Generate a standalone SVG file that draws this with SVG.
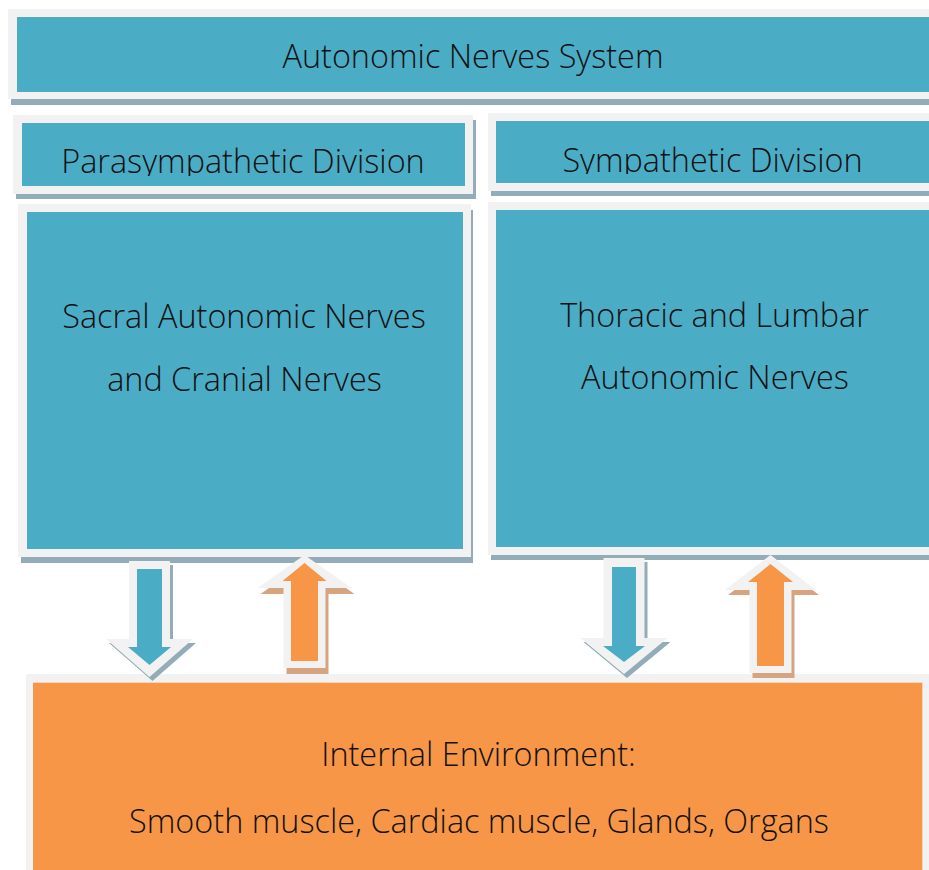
<svg xmlns="http://www.w3.org/2000/svg" width="929" height="870" viewBox="0 0 929 870">
<style>
.frame{fill:#f2f2f2}
.fill{fill:#4bacc6}
.shb{fill:#93adb8}
.sho{fill:#d5a581}
.ofill{fill:#f79646}
.t{font-family:"Open Sans","Noto Sans","Liberation Sans",sans-serif;font-size:32.4px;font-weight:300;fill:#111;text-anchor:middle}
</style>
<defs>
<clipPath id="cpPara"><rect x="0" y="100" width="929" height="76"/></clipPath>
<clipPath id="cpSym"><rect x="0" y="100" width="929" height="74"/></clipPath>
</defs>
<rect width="929" height="870" fill="#ffffff"/>

<g id="autonomic-nerves-system">
<rect class="shb" x="11" y="14" width="930" height="91"/>
<rect class="frame" x="8" y="9" width="930" height="90"/>
<rect class="fill" x="17" y="17" width="920" height="75"/>
<text class="t" x="473" y="68">Autonomic Nerves System</text>
</g>

<g id="parasympathetic-division">
<rect class="shb" x="16" y="120" width="460" height="79"/>
<rect class="frame" x="13" y="115" width="460" height="79"/>
<rect class="fill" x="22" y="123" width="443" height="63"/>
<text class="t" x="243" y="173" clip-path="url(#cpPara)">Parasympathetic Division</text>
</g>

<g id="sympathetic-division">
<rect class="shb" x="491" y="118" width="450" height="78"/>
<rect class="frame" x="488" y="113" width="450" height="78"/>
<rect class="fill" x="496" y="121" width="440" height="62"/>
<text class="t" x="712.5" y="172" clip-path="url(#cpSym)">Sympathetic Division</text>
</g>

<g id="sacral-cranial">
<rect class="shb" x="21" y="210" width="452" height="353"/>
<rect class="frame" x="18" y="204" width="453" height="353"/>
<rect class="fill" x="27" y="212" width="436" height="337"/>
<text class="t" x="244" y="328">Sacral Autonomic Nerves</text>
<text class="t" x="244.5" y="391">and Cranial Nerves</text>
</g>

<g id="thoracic-lumbar">
<rect class="shb" x="491" y="207" width="450" height="353"/>
<rect class="frame" x="488" y="202" width="450" height="353"/>
<rect class="fill" x="496" y="210" width="440" height="337"/>
<text class="t" x="714.5" y="327">Thoracic and Lumbar</text>
<text class="t" x="715" y="389">Autonomic Nerves</text>
</g>

<g id="internal-environment">
<rect class="frame" x="26" y="674" width="903" height="200"/>
<rect x="33" y="682" width="890" height="190" fill="#f8d3b8"/>
<rect class="ofill" x="33" y="683" width="889" height="190"/>
<text class="t" x="478.5" y="766">Internal Environment:</text>
<text class="t" x="479" y="833">Smooth muscle, Cardiac muscle, Glands, Organs</text>
</g>

<g id="connectors">
<g id="para-down">
<polygon class="shb" transform="translate(3,4)" points="129,561 170,561 170,639 193,639 149.5,677 106,639 129,639"/>
<polygon class="frame" points="129,561 170,561 170,639 193,639 149.5,677 106,639 129,639"/>
<polygon class="fill" points="137,569 162,569 162,647 171,647 149.5,665 128,647 137,647"/>
</g>
<g id="para-up">
<polygon class="sho" transform="translate(3,6)" points="283.5,668 325.5,668 325.5,588 351.5,588 304.5,555 257.5,588 283.5,588"/>
<polygon class="frame" points="283.5,668 325.5,668 325.5,588 351.5,588 304.5,555 257.5,588 283.5,588"/>
<polygon class="ofill" points="291,661 318,661 318,581 326.5,581 304.5,563 282.5,581 291,581"/>
</g>
<g id="sym-down">
<polygon class="shb" transform="translate(3,4)" points="603.5,558 644.5,558 644.5,638 667.5,638 624,674 580.5,638 603.5,638"/>
<polygon class="frame" points="603.5,558 644.5,558 644.5,638 667.5,638 624,674 580.5,638 603.5,638"/>
<polygon class="fill" points="612,567 636,567 636,646 645,646 624,662 603,646 612,646"/>
</g>
<g id="sym-up">
<polygon class="sho" transform="translate(3,5)" points="749.5,673 791.5,673 791.5,590 816,590 770.5,555 725,590 749.5,590"/>
<polygon class="frame" points="749.5,673 791.5,673 791.5,590 816,590 770.5,555 725,590 749.5,590"/>
<polygon class="ofill" points="757,666 784,666 784,582 793,582 770.5,564 748,582 757,582"/>
</g>
</g>
</svg>
